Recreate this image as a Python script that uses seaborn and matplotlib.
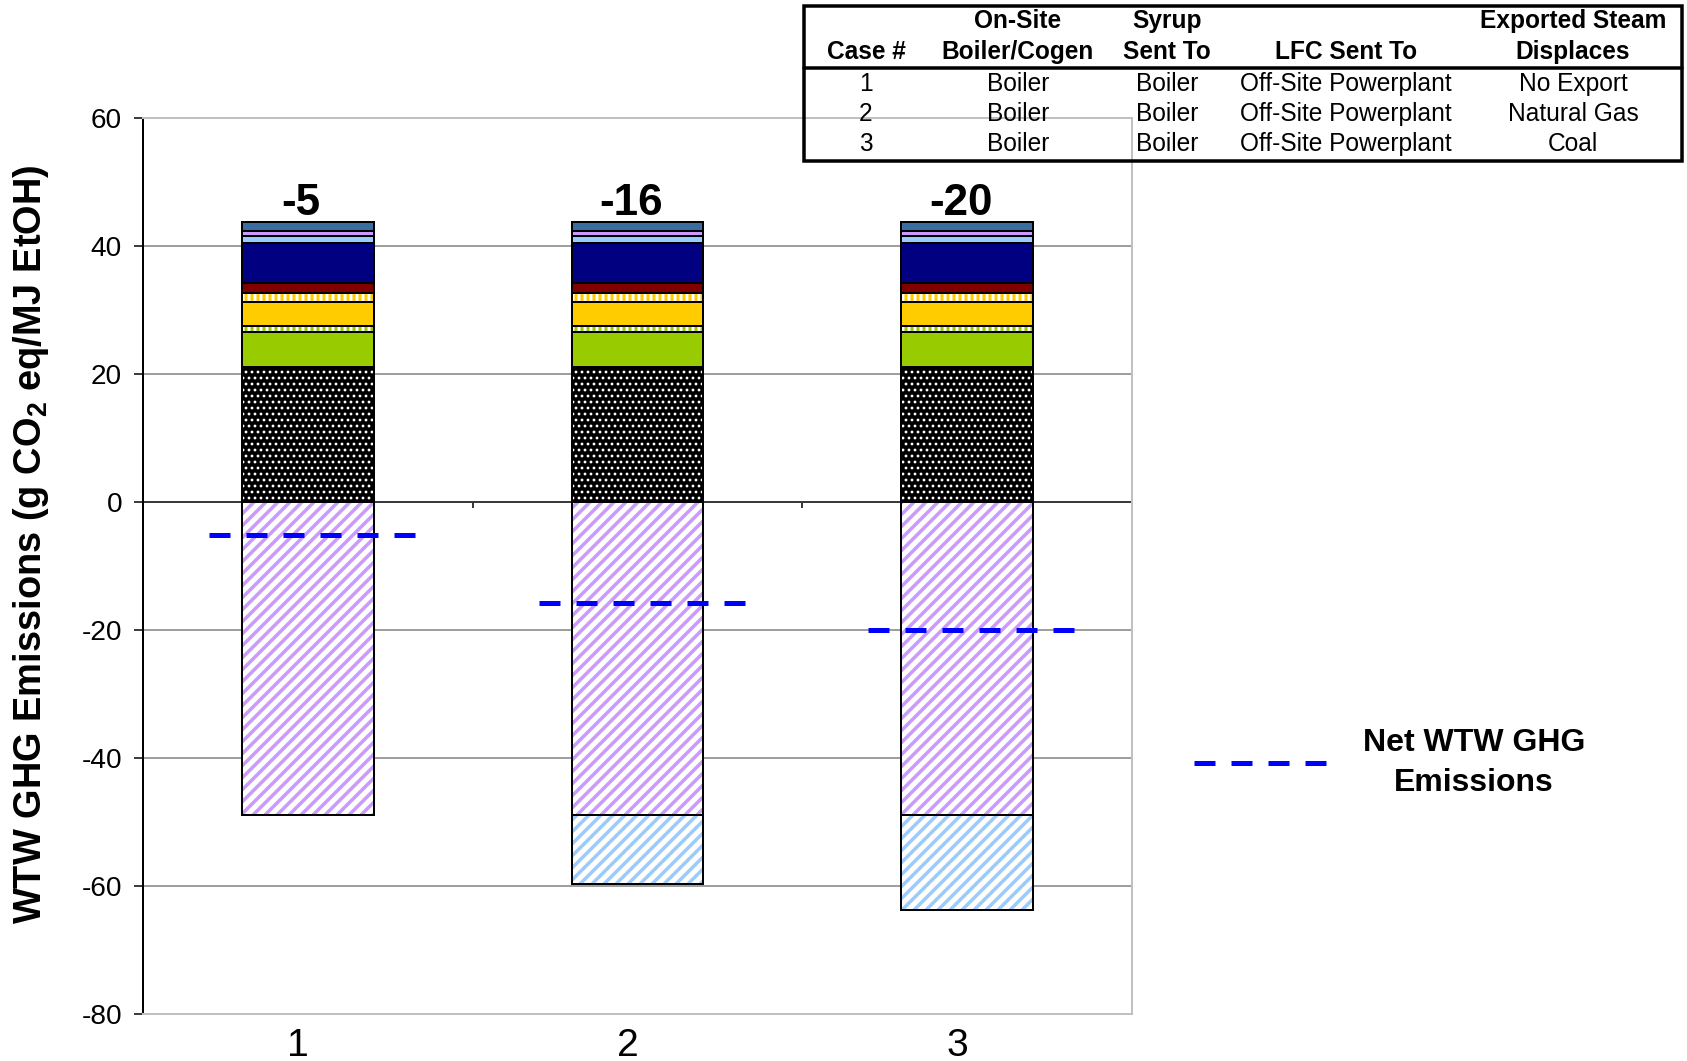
import matplotlib
matplotlib.use("Agg")
import matplotlib.pyplot as plt
import matplotlib.transforms as mtransforms
from matplotlib.patches import Rectangle
from matplotlib.lines import Line2D
import seaborn as sns
import numpy as np

# ---- data -------------------------------------------------------------
cases = ["1", "2", "3"]

# positive contributions, stacked from the bottom up (g CO2 eq / MJ EtOH)
seg_dotted = [21.0, 21.0, 21.0]
seg_green = [5.6, 5.6, 5.6]
seg_green_chk = [0.9, 0.9, 0.9]
seg_gold = [3.8, 3.8, 3.8]
seg_gold_chk = [1.3, 1.3, 1.3]
seg_darkred = [1.6, 1.6, 1.6]
seg_navy = [6.2, 6.2, 6.2]
seg_lightblue = [1.2, 1.2, 1.2]
seg_lavender = [0.8, 0.8, 0.8]
seg_steel = [1.4, 1.4, 1.4]

# credits (negative)
credit_ethanol = [-49.0, -49.0, -49.0]
credit_steam = [0.0, -10.7, -14.8]

# case table
tbl_header = ["Case #", "On-Site\nBoiler/Cogen", "Syrup\nSent To", "LFC Sent To",
              "Exported Steam\nDisplaces"]
tbl_case = ["1", "2", "3"]
tbl_boiler = ["Boiler", "Boiler", "Boiler"]
tbl_syrup = ["Boiler", "Boiler", "Boiler"]
tbl_lfc = ["Off-Site Powerplant", "Off-Site Powerplant", "Off-Site Powerplant"]
tbl_steam = ["No Export", "Natural Gas", "Coal"]

yticks = [-80, -60, -40, -20, 0, 20, 40, 60]

# ---- style ------------------------------------------------------------
sns.set_style("white")
plt.rcParams["font.family"] = ["Liberation Sans", "DejaVu Sans"]
plt.rcParams["mathtext.fontset"] = "custom"
plt.rcParams["mathtext.rm"] = "Liberation Sans"
plt.rcParams["mathtext.bf"] = "Liberation Sans:bold"
for key in ("text.color", "axes.labelcolor", "xtick.color", "ytick.color"):
    plt.rcParams[key] = "black"

W, H = 1687, 1061
DPI = 72
fig = plt.figure(figsize=(W / DPI, H / DPI), dpi=DPI)
fig.patch.set_facecolor("white")


def fx(px):
    return px / W


def fy(py):
    return 1 - py / H


ax = fig.add_axes([fx(143), fy(1013.5), fx(1132) - fx(143), fy(118) - fy(1013.5)])

BAR_W = 0.4


def stacked_layer(heights, bottoms, face, hatch=None, hatch_color=None, hatch_lw=1.0):
    """Draw one stacked layer with seaborn, then style the patches."""
    n0 = len(ax.patches)
    sns.barplot(x=cases, y=heights, bottom=bottoms, order=cases, width=BAR_W,
                color=face if face != "none" else "white", saturation=1,
                errorbar=None, ax=ax, zorder=3)
    for p in ax.patches[n0:]:
        p.set_facecolor(face)
        p.set_zorder(3)
        if hatch:
            p.set_hatch(hatch)
            p.set_edgecolor(hatch_color)
            p.set_linewidth(0)
            if hasattr(p, "set_hatch_linewidth"):
                p.set_hatch_linewidth(hatch_lw)
        else:
            p.set_edgecolor("black")
            p.set_linewidth(2)
    # crisp black outline over the hatched fill
    if hatch:
        n1 = len(ax.patches)
        sns.barplot(x=cases, y=heights, bottom=bottoms, order=cases, width=BAR_W,
                    color="white", saturation=1, errorbar=None, ax=ax, zorder=4)
        for p in ax.patches[n1:]:
            p.set_facecolor("none")
            p.set_edgecolor("black")
            p.set_linewidth(2)
            p.set_zorder(4)


pos_layers = [
    (seg_dotted, "black", "..", "white", 1.6),
    (seg_green, "#99cc00", None, None, 1),
    (seg_green_chk, "#99cc00", "||", "white", 3),
    (seg_gold, "#ffcc00", None, None, 1),
    (seg_gold_chk, "#ffcc00", "||", "white", 3),
    (seg_darkred, "#800000", None, None, 1),
    (seg_navy, "#000080", None, None, 1),
    (seg_lightblue, "#99ccff", None, None, 1),
    (seg_lavender, "#cc99ff", None, None, 1),
    (seg_steel, "#3b6ea0", None, None, 1),
]

bottom = np.zeros(len(cases))
for vals, face, hatch, hcol, hlw in pos_layers:
    vals = np.asarray(vals, dtype=float)
    stacked_layer(vals, bottom.copy(), face, hatch, hcol, hlw)
    bottom = bottom + vals
top = bottom.copy()

neg_bottom = np.zeros(len(cases))
for vals, hcol in [(credit_ethanol, "#cc99ff"), (credit_steam, "#99ccff")]:
    vals = np.asarray(vals, dtype=float)
    stacked_layer(vals, neg_bottom.copy(), "white", "//", hcol, 3.5)
    neg_bottom = neg_bottom + vals

net = top + neg_bottom

# net emission markers and labels
xpos = np.arange(len(cases))
for i, (x, v) in enumerate(zip(xpos, net)):
    ax.plot([x - 0.3, x + 0.33], [v, v], color="#0000ff", lw=5,
            linestyle=(0, (4.2, 3.2)), dash_capstyle="butt", zorder=6,
            label="Net WTW GHG\nEmissions" if i == 0 else None)
    ax.text(x - 0.02, top[i] + 1.0, f"{int(round(v))}", ha="center", va="baseline",
            fontsize=44, fontweight="bold", zorder=7)

# ---- axes decoration --------------------------------------------------
ax.set_xlim(-0.5, 2.5)
ax.set_ylim(-80, 60)
ax.set_yticks(yticks)
ax.set_yticklabels([str(t) for t in yticks], fontsize=28)
ax.set_xticks(xpos)
ax.set_xticklabels(cases, fontsize=39)
ax.set_xlabel("")
ax.set_ylabel("")
ax.tick_params(axis="y", which="major", direction="out", length=9, width=1.5,
               color="black", pad=12, left=True)
ax.tick_params(axis="x", length=0, pad=14)
shift = mtransforms.ScaledTranslation(-10 / DPI, 0, fig.dpi_scale_trans)
for lbl in ax.get_xticklabels():
    lbl.set_transform(lbl.get_transform() + shift)

for t in yticks:
    if t in (-80, 0, 60):
        continue
    ax.axhline(t, color="#808080", lw=1.5, zorder=1)
ax.axhline(0, color="#3a3a3a", lw=2, zorder=2)
ax.vlines([0.5, 1.5, 2.5], -1.0, 0, color="#3a3a3a", lw=2, zorder=2)

for side in ("top", "right", "bottom"):
    ax.spines[side].set_visible(True)
    ax.spines[side].set_color("#c0c0c0")
    ax.spines[side].set_linewidth(2)
ax.spines["left"].set_color("black")
ax.spines["left"].set_linewidth(2)

fig.text(fx(31), fy(544), r"WTW GHG Emissions (g CO$_\mathbf{2}$ eq/MJ EtOH)",
         rotation=90, ha="center", va="center", fontsize=38, fontweight="bold")

# legend
leg = fig.legend(handles=[ax.lines[0]], loc="center left",
                 bbox_to_anchor=(fx(1194), fy(763)), bbox_transform=fig.transFigure,
                 frameon=False, borderpad=0, borderaxespad=0,
                 handlelength=135 / 32, handletextpad=34 / 32,
                 prop={"size": 32, "weight": "bold"})
for t in leg.get_texts():
    t.set_multialignment("center")
    t.set_linespacing(1.4)

# ---- case table -------------------------------------------------------
fig.patches.append(Rectangle((fx(804), fy(161.4)), fx(1681.5) - fx(804),
                             fy(6.5) - fy(161.4), transform=fig.transFigure,
                             fill=False, edgecolor="black", lw=3.5, zorder=10))
fig.lines.append(Line2D([fx(804), fx(1681.5)], [fy(67.8), fy(67.8)],
                        transform=fig.transFigure, color="black", lw=3.5))

col_x = [866, 1018, 1167, 1346, 1573]
head_rows = [21, 52]
for cx, head in zip(col_x, tbl_header):
    lines = head.split("\n")
    for k, line in enumerate(reversed(lines)):
        fig.text(fx(cx), fy(head_rows[1 - k]), line, ha="center", va="center",
                 fontsize=24.5, fontweight="bold")

row_y = [84, 114, 144]
columns = [tbl_case, tbl_boiler, tbl_syrup, tbl_lfc, tbl_steam]
for cx, col in zip(col_x, columns):
    for ry, val in zip(row_y, col):
        fig.text(fx(cx), fy(ry), val, ha="center", va="center", fontsize=24.5)

fig.savefig("out.png", dpi=DPI, facecolor="white")
